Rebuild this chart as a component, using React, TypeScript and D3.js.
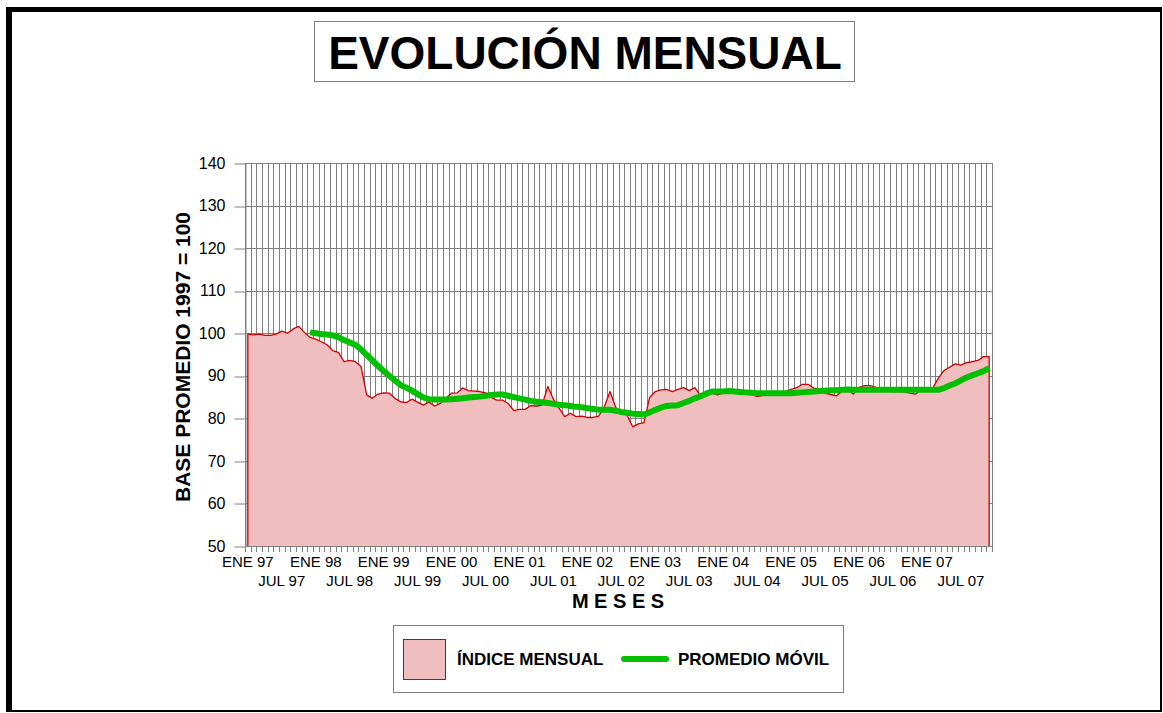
import React, { useEffect, useRef } from 'react'
import * as d3 from 'd3'

const MESES = ['ENE', 'FEB', 'MAR', 'ABR', 'MAY', 'JUN', 'JUL', 'AGO', 'SEP', 'OCT', 'NOV', 'DIC']
const ANIOS = ['97', '98', '99', '00', '01', '02', '03', '04', '05', '06', '07']
const Y_TICKS = [50, 60, 70, 80, 90, 100, 110, 120, 130, 140]

// indice mensual, ENE 97 .. DIC 07
const INDICE_MENSUAL = [
  99.8, 99.6, 99.8, 99.5, 99.5, 99.8, 100.5, 100.0, 101.0, 101.6, 100.2, 99.0,
  98.6, 98.0, 97.3, 95.9, 95.5, 93.3, 93.6, 93.3, 92.2, 85.5, 84.7, 85.7,
  86.0, 85.9, 84.7, 83.9, 83.7, 84.5, 83.8, 83.1, 83.8, 82.9, 83.5, 84.7,
  85.9, 86.0, 87.1, 86.5, 86.4, 86.3, 86.0, 84.9, 84.3, 84.3, 83.5, 81.8,
  82.1, 82.1, 83.0, 82.9, 83.1, 87.5, 84.5, 82.4, 80.4, 81.2, 80.4, 80.5,
  80.2, 80.2, 80.5, 82.7, 86.3, 82.6, 81.3, 80.8, 78.0, 78.7, 79.0, 84.9,
  86.3, 86.7, 86.8, 86.3, 86.8, 87.2, 86.5, 87.2, 85.3, 85.7, 85.9, 85.5,
  86.0, 86.9, 86.3, 85.6, 85.9, 85.7, 85.1, 85.4, 85.7, 85.9, 86.0, 86.3,
  86.8, 87.2, 88.0, 88.0, 87.1, 86.9, 85.9, 85.6, 85.3, 86.3, 86.7, 85.7,
  87.3, 87.7, 87.7, 87.3, 86.7, 86.4, 86.3, 86.3, 86.2, 85.9, 85.7, 86.7,
  87.2, 87.0, 89.4, 91.2, 92.0, 92.8, 92.5, 93.1, 93.3, 93.6, 94.5, 94.5,
]

// promedio movil (12 meses), empieza en DIC 97
const PROMEDIO_MOVIL: (number | null)[] = [
  null, null, null, null, null, null, null, null, null, null, null, 100.2,
  100.0, 99.8, 99.7, 99.5, 99.1, 98.4, 97.8, 97.3, 96.2, 94.9, 93.6, 92.3,
  91.1, 90.0, 88.9, 87.8, 87.2, 86.5, 85.7, 84.9, 84.5, 84.4, 84.4, 84.4,
  84.5, 84.6, 84.7, 84.9, 85.0, 85.1, 85.3, 85.5, 85.6, 85.6, 85.3, 85.0,
  84.7, 84.4, 84.1, 83.9, 83.8, 83.6, 83.4, 83.2, 83.1, 82.9, 82.7, 82.6,
  82.4, 82.2, 82.0, 82.0, 82.0, 81.8, 81.5, 81.3, 81.1, 81.0, 80.9, 81.4,
  82.0, 82.5, 82.9, 83.0, 83.1, 83.6, 84.1, 84.7, 85.2, 85.8, 86.3, 86.3,
  86.3, 86.4, 86.3, 86.2, 86.1, 86.0, 85.9, 85.9, 85.9, 85.9, 85.9, 85.9,
  85.9, 86.0, 86.1, 86.2, 86.3, 86.4, 86.5, 86.6, 86.6, 86.7, 86.8, 86.7,
  86.7, 86.7, 86.7, 86.7, 86.7, 86.7, 86.7, 86.7, 86.7, 86.7, 86.7, 86.7,
  86.7, 86.7, 86.7, 87.1, 87.7, 88.2, 88.9, 89.6, 90.1, 90.6, 91.1, 91.8,
]

const CATEGORIAS = ANIOS.flatMap(a => MESES.map(m => `${m} ${a}`))

const FONT = 'Arial, "Liberation Sans", sans-serif'
const RELLENO = '#f0bebe'
const ROJO = '#cc0000'
const VERDE = '#00c000'
const GRIS = '#808080'

export default function App() {
  const svgRef = useRef<SVGSVGElement>(null)

  useEffect(() => {
    const svg = d3.select(svgRef.current)
    svg.selectAll('*').remove()

    const left = 245, right = 992, top = 163, bottom = 546
    const x = d3.scaleBand().domain(CATEGORIAS).range([left, right]).padding(0)
    const y = d3.scaleLinear().domain([50, 140]).range([bottom, top])
    const cx = (c: string) => (x(c) ?? 0) + x.bandwidth() / 2
    const crisp = (v: number) => Math.round(v) + 0.5

    // marco exterior
    svg.append('rect').attr('x', 6).attr('y', 7).attr('width', 1156).attr('height', 5).attr('fill', '#000')
    svg.append('rect').attr('x', 6).attr('y', 7).attr('width', 6).attr('height', 705).attr('fill', '#000')
    svg.append('rect').attr('x', 1160).attr('y', 7).attr('width', 2).attr('height', 705).attr('fill', '#000')
    svg.append('rect').attr('x', 6).attr('y', 710).attr('width', 1156).attr('height', 2).attr('fill', '#000')

    // titulo
    svg.append('rect').attr('x', 314.5).attr('y', 21.5).attr('width', 540).attr('height', 60)
      .attr('fill', '#fff').attr('stroke', GRIS).attr('stroke-width', 1)
    svg.append('text').attr('x', 585).attr('y', 69).attr('text-anchor', 'middle')
      .style('font-family', FONT).style('font-size', '46px').style('font-weight', 'bold')
      .text('EVOLUCIÓN MENSUAL')

    // rejilla
    const limites = CATEGORIAS.map(c => x(c) ?? 0).concat([right])
    svg.append('g').selectAll('line').data(limites).enter().append('line')
      .attr('x1', d => crisp(d)).attr('x2', d => crisp(d))
      .attr('y1', top).attr('y2', bottom)
      .attr('stroke', GRIS).attr('stroke-width', 1)
    svg.append('g').selectAll('line').data(Y_TICKS.filter(t => t > 50)).enter().append('line')
      .attr('x1', left).attr('x2', crisp(right))
      .attr('y1', d => crisp(y(d))).attr('y2', d => crisp(y(d)))
      .attr('stroke', GRIS).attr('stroke-width', 1)

    // area indice mensual
    const puntos = CATEGORIAS.map((c, i) => ({ c, v: INDICE_MENSUAL[i] }))
    const area = d3.area<{ c: string, v: number }>().x(d => cx(d.c)).y0(y(50)).y1(d => y(d.v))
    svg.append('path').datum(puntos).attr('d', area).attr('fill', RELLENO)
    const borde: [number, number][] = [[cx(CATEGORIAS[0]), y(50)]]
      .concat(puntos.map(d => [cx(d.c), y(d.v)] as [number, number]))
      .concat([[cx(CATEGORIAS[CATEGORIAS.length - 1]), y(50)]]) as [number, number][]
    svg.append('path').attr('d', d3.line()(borde))
      .attr('fill', 'none').attr('stroke', ROJO).attr('stroke-width', 1.3).attr('stroke-linejoin', 'round')

    // promedio movil
    const prom = CATEGORIAS.map((c, i) => ({ c, v: PROMEDIO_MOVIL[i] }))
    const linea = d3.line<{ c: string, v: number | null }>()
      .defined(d => d.v != null).x(d => cx(d.c)).y(d => y(d.v as number))
    svg.append('path').datum(prom).attr('d', linea)
      .attr('fill', 'none').attr('stroke', VERDE).attr('stroke-width', 6).attr('stroke-linejoin', 'round')

    // eje Y
    const ejeY = svg.append('g').attr('transform', `translate(${crisp(left)},0)`)
      .call(d3.axisLeft(y).tickValues(Y_TICKS).tickSize(11).tickSizeOuter(0).tickPadding(9))
    ejeY.select('.domain').attr('stroke', GRIS)
    ejeY.selectAll('.tick line').attr('stroke', GRIS).attr('transform', (d: any) => `translate(0,${crisp(y(d)) - y(d)})`)
    ejeY.selectAll('.tick text').attr('fill', '#000').style('font-family', FONT).style('font-size', '16px')

    // eje X
    svg.append('line').attr('x1', left).attr('x2', crisp(right))
      .attr('y1', crisp(bottom)).attr('y2', crisp(bottom)).attr('stroke', GRIS)
    svg.append('g').selectAll('line').data(limites).enter().append('line')
      .attr('x1', d => crisp(d)).attr('x2', d => crisp(d))
      .attr('y1', bottom).attr('y2', bottom + 6)
      .attr('stroke', GRIS).attr('stroke-width', 1)
    const etiquetas = CATEGORIAS.filter(c => c.startsWith('ENE') || c.startsWith('JUL'))
    svg.append('g').selectAll('text').data(etiquetas).enter().append('text')
      .attr('x', d => cx(d))
      .attr('y', d => d.startsWith('ENE') ? 567 : 586)
      .attr('text-anchor', 'middle')
      .style('font-family', FONT).style('font-size', '15px')
      .text(d => d)

    // titulos de ejes
    svg.append('text').attr('transform', 'translate(190,357) rotate(-90)').attr('text-anchor', 'middle')
      .style('font-family', FONT).style('font-size', '21px').style('font-weight', 'bold')
      .text('BASE PROMEDIO 1997 = 100')
    svg.append('text').attr('x', 618).attr('y', 608).attr('text-anchor', 'middle')
      .style('font-family', FONT).style('font-size', '20px').style('font-weight', 'bold')
      .text('M E S E S')

    // leyenda
    svg.append('rect').attr('x', 393.5).attr('y', 625.5).attr('width', 450).attr('height', 67)
      .attr('fill', '#fff').attr('stroke', GRIS)
    svg.append('rect').attr('x', 403.5).attr('y', 639.5).attr('width', 42).attr('height', 40)
      .attr('fill', RELLENO).attr('stroke', ROJO)
    svg.append('text').attr('x', 457).attr('y', 665)
      .style('font-family', FONT).style('font-size', '17px').style('font-weight', 'bold')
      .text('ÍNDICE MENSUAL')
    svg.append('line').attr('x1', 624).attr('x2', 666).attr('y1', 659).attr('y2', 659)
      .attr('stroke', VERDE).attr('stroke-width', 6).attr('stroke-linecap', 'round')
    svg.append('text').attr('x', 678).attr('y', 665)
      .style('font-family', FONT).style('font-size', '17px').style('font-weight', 'bold')
      .text('PROMEDIO MÓVIL')
  }, [])

  return (
    <div style={{ position: 'absolute', left: 0, top: 0 }}>
      <svg ref={svgRef} width={1163} height={713} style={{ display: 'block', background: '#fff' }}></svg>
    </div>
  )
}
